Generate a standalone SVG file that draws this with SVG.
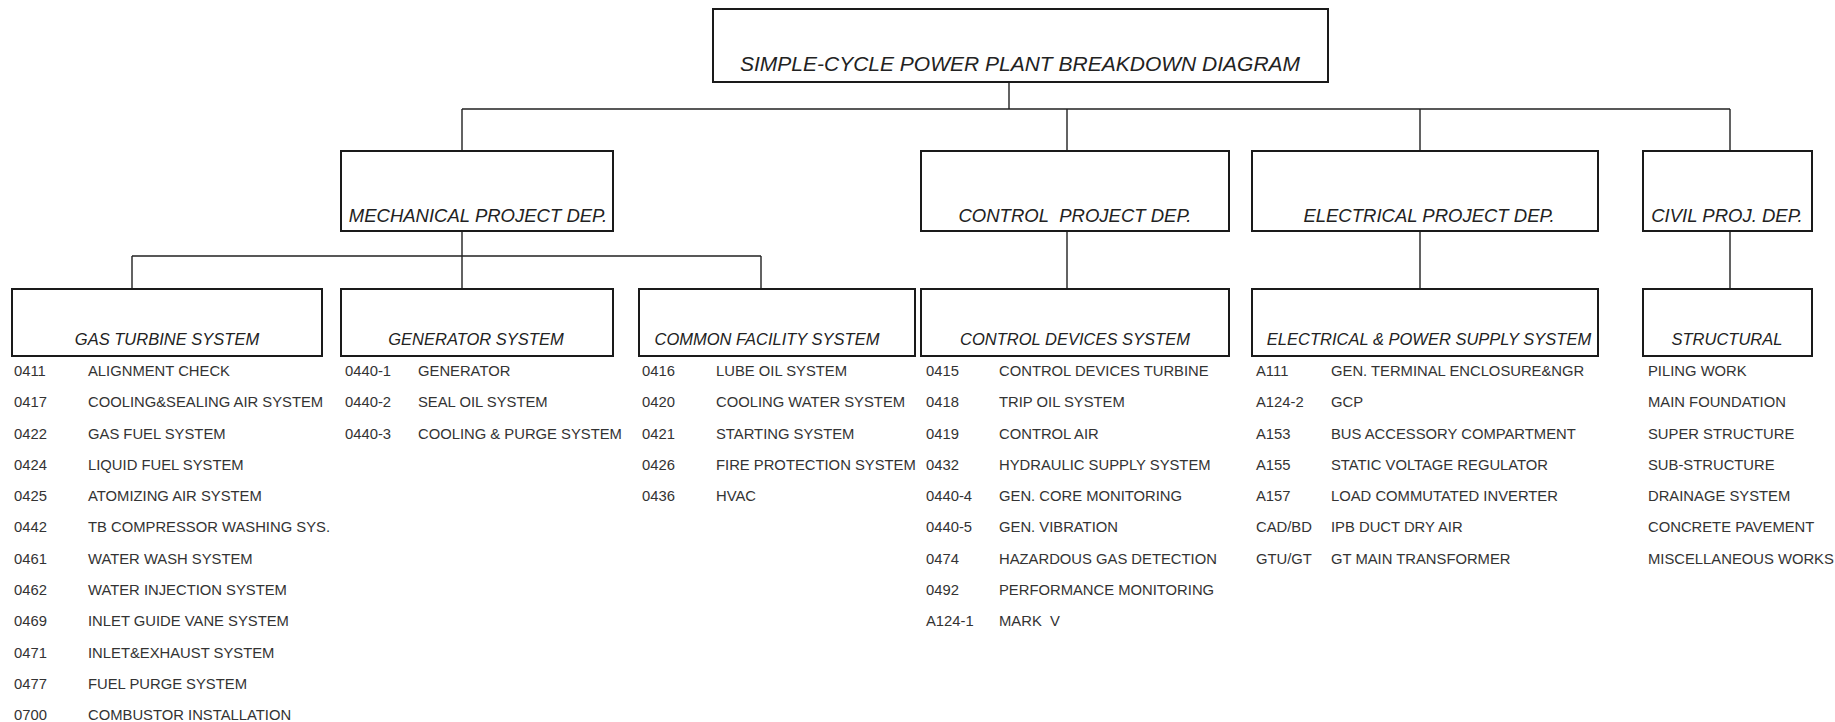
<svg xmlns="http://www.w3.org/2000/svg" width="1835" height="722" viewBox="0 0 1835 722">
<style>
.box{fill:#fff;stroke:#1a1a1a;stroke-width:2}
.con{fill:none;stroke:#222;stroke-width:1.4}
.h1{font-family:"Liberation Sans",Arial,sans-serif;font-style:italic;font-size:21px;fill:#222;text-anchor:middle}
.h2{font-family:"Liberation Sans",Arial,sans-serif;font-style:italic;font-size:18.5px;fill:#222;text-anchor:middle}
.h3{font-family:"Liberation Sans",Arial,sans-serif;font-style:italic;font-size:16.5px;fill:#222;text-anchor:middle}
.li{font-family:"Liberation Sans",Arial,sans-serif;font-size:14.8px;fill:#333}
</style>
<rect width="1835" height="722" fill="#fff"/>
<g id="connectors">
<path class="con" d="M1009,82V109M462,109H1730M462,109V151M1067,109V151M1420,109V151M1730,109V151"/>
<path class="con" d="M462,231V256M132,256H761M132,256V289M462,256V289M761,256V289"/>
<path class="con" d="M1067,231V289M1420,231V289M1730,231V289"/>
</g>
<g id="root">
<rect class="box" x="713" y="9" width="615" height="73"/>
<text class="h1" x="1020" y="71">SIMPLE-CYCLE POWER PLANT BREAKDOWN DIAGRAM</text>
</g>
<g id="mech">
<rect class="box" x="341" y="151" width="272" height="80"/>
<text class="h2" x="478" y="222">MECHANICAL PROJECT DEP.</text>
</g>
<g id="control">
<rect class="box" x="921" y="151" width="308" height="80"/>
<text class="h2" x="1075" y="222">CONTROL&#160; PROJECT DEP.</text>
</g>
<g id="electrical">
<rect class="box" x="1252" y="151" width="346" height="80"/>
<text class="h2" x="1429" y="222">ELECTRICAL PROJECT DEP.</text>
</g>
<g id="civil">
<rect class="box" x="1643" y="151" width="169" height="80"/>
<text class="h2" x="1727" y="222">CIVIL PROJ. DEP.</text>
</g>
<g id="gas-turbine">
<rect class="box" x="12" y="289" width="310" height="67"/>
<text class="h3" x="167" y="345">GAS TURBINE SYSTEM</text>
<g class="li">
<text x="14" y="376">0411</text><text x="88" y="376">ALIGNMENT CHECK</text>
<text x="14" y="407">0417</text><text x="88" y="407">COOLING&amp;SEALING AIR SYSTEM</text>
<text x="14" y="439">0422</text><text x="88" y="439">GAS FUEL SYSTEM</text>
<text x="14" y="470">0424</text><text x="88" y="470">LIQUID FUEL SYSTEM</text>
<text x="14" y="501">0425</text><text x="88" y="501">ATOMIZING AIR SYSTEM</text>
<text x="14" y="532">0442</text><text x="88" y="532">TB COMPRESSOR WASHING SYS.</text>
<text x="14" y="564">0461</text><text x="88" y="564">WATER WASH SYSTEM</text>
<text x="14" y="595">0462</text><text x="88" y="595">WATER INJECTION SYSTEM</text>
<text x="14" y="626">0469</text><text x="88" y="626">INLET GUIDE VANE SYSTEM</text>
<text x="14" y="658">0471</text><text x="88" y="658">INLET&amp;EXHAUST SYSTEM</text>
<text x="14" y="689">0477</text><text x="88" y="689">FUEL PURGE SYSTEM</text>
<text x="14" y="720">0700</text><text x="88" y="720">COMBUSTOR INSTALLATION</text>
</g>
</g>
<g id="generator">
<rect class="box" x="341" y="289" width="272" height="67"/>
<text class="h3" x="476" y="345">GENERATOR SYSTEM</text>
<g class="li">
<text x="345" y="376">0440-1</text><text x="418" y="376">GENERATOR</text>
<text x="345" y="407">0440-2</text><text x="418" y="407">SEAL OIL SYSTEM</text>
<text x="345" y="439">0440-3</text><text x="418" y="439">COOLING &amp; PURGE SYSTEM</text>
</g>
</g>
<g id="common-facility">
<rect class="box" x="639" y="289" width="276" height="67"/>
<text class="h3" x="767" y="345">COMMON FACILITY SYSTEM</text>
<g class="li">
<text x="642" y="376">0416</text><text x="716" y="376">LUBE OIL SYSTEM</text>
<text x="642" y="407">0420</text><text x="716" y="407">COOLING WATER SYSTEM</text>
<text x="642" y="439">0421</text><text x="716" y="439">STARTING SYSTEM</text>
<text x="642" y="470">0426</text><text x="716" y="470">FIRE PROTECTION SYSTEM</text>
<text x="642" y="501">0436</text><text x="716" y="501">HVAC</text>
</g>
</g>
<g id="control-devices">
<rect class="box" x="921" y="289" width="308" height="67"/>
<text class="h3" x="1075" y="345">CONTROL DEVICES SYSTEM</text>
<g class="li">
<text x="926" y="376">0415</text><text x="999" y="376">CONTROL DEVICES TURBINE</text>
<text x="926" y="407">0418</text><text x="999" y="407">TRIP OIL SYSTEM</text>
<text x="926" y="439">0419</text><text x="999" y="439">CONTROL AIR</text>
<text x="926" y="470">0432</text><text x="999" y="470">HYDRAULIC SUPPLY SYSTEM</text>
<text x="926" y="501">0440-4</text><text x="999" y="501">GEN. CORE MONITORING</text>
<text x="926" y="532">0440-5</text><text x="999" y="532">GEN. VIBRATION</text>
<text x="926" y="564">0474</text><text x="999" y="564">HAZARDOUS GAS DETECTION</text>
<text x="926" y="595">0492</text><text x="999" y="595">PERFORMANCE MONITORING</text>
<text x="926" y="626">A124-1</text><text x="999" y="626">MARK&#160; V</text>
</g>
</g>
<g id="electrical-power">
<rect class="box" x="1252" y="289" width="346" height="67"/>
<text class="h3" x="1429" y="345">ELECTRICAL &amp; POWER SUPPLY SYSTEM</text>
<g class="li">
<text x="1256" y="376">A111</text><text x="1331" y="376">GEN. TERMINAL ENCLOSURE&amp;NGR</text>
<text x="1256" y="407">A124-2</text><text x="1331" y="407">GCP</text>
<text x="1256" y="439">A153</text><text x="1331" y="439">BUS ACCESSORY COMPARTMENT</text>
<text x="1256" y="470">A155</text><text x="1331" y="470">STATIC VOLTAGE REGULATOR</text>
<text x="1256" y="501">A157</text><text x="1331" y="501">LOAD COMMUTATED INVERTER</text>
<text x="1256" y="532">CAD/BD</text><text x="1331" y="532">IPB DUCT DRY AIR</text>
<text x="1256" y="564">GTU/GT</text><text x="1331" y="564">GT MAIN TRANSFORMER</text>
</g>
</g>
<g id="structural">
<rect class="box" x="1643" y="289" width="169" height="67"/>
<text class="h3" x="1727" y="345">STRUCTURAL</text>
<g class="li">
<text x="1648" y="376">PILING WORK</text>
<text x="1648" y="407">MAIN FOUNDATION</text>
<text x="1648" y="439">SUPER STRUCTURE</text>
<text x="1648" y="470">SUB-STRUCTURE</text>
<text x="1648" y="501">DRAINAGE SYSTEM</text>
<text x="1648" y="532">CONCRETE PAVEMENT</text>
<text x="1648" y="564">MISCELLANEOUS WORKS</text>
</g>
</g>
</svg>
